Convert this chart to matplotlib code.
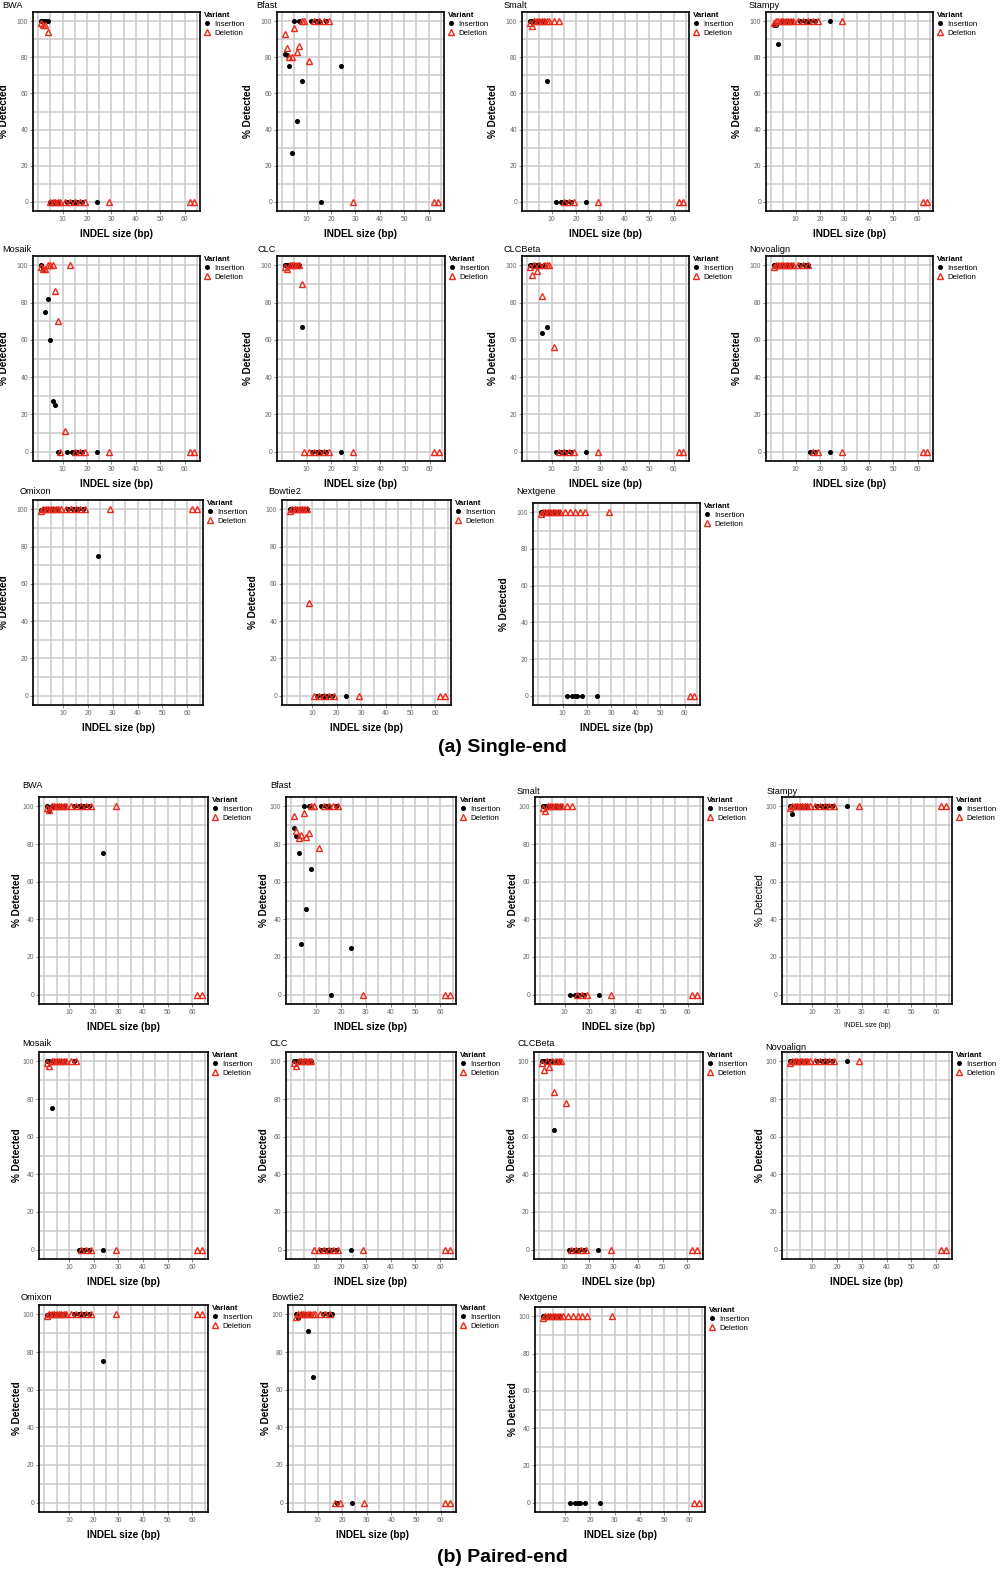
import matplotlib
matplotlib.use("Agg")
import matplotlib.pyplot as plt

plt.rcParams['font.family'] = ['Liberation Sans', 'DejaVu Sans']

# INDEL sizes (bp)
ins_size = [1, 2, 3, 4, 5, 6, 7, 8, 12, 14, 15, 16, 18, 24]
del_size = [1, 2, 3, 4, 5, 6, 7, 8, 9, 11, 13, 15, 17, 19, 29, 62, 64]

# single-end, % detected
se_bwa_ins = [100, 100, 100, 100, 0, 0, 0, 0, 0, 0, 0, 0, 0, 0]
se_bwa_del = [99, 98, 98, 94, 0, 0, 0, 0, 0, 0, 0, 0, 0, 0, 0, 0, 0]
se_bfast_ins = [82, 81, 75, 27, 100, 45, 100, 67, 100, 100, 100, 0, 100, 75]
se_bfast_del = [93, 85, 80, 80, 96, 83, 86, 100, 100, 78, 100, 100, 100, 100, 0, 0, 0]
se_smalt_ins = [100, 100, 100, 100, 100, 100, 100, 67, 0, 0, 0, 0, 0, 0]
se_smalt_del = [99, 97.5, 100, 100, 100, 100, 100, 100, 100, 100, 100, 0, 0, 0, 0, 0, 0]
se_stampy_ins = [98, 98, 87.5, 100, 100, 100, 100, 100, 100, 100, 100, 100, 100, 100]
se_stampy_del = [99, 100, 100, 100, 100, 100, 100, 100, 100, 100, 100, 100, 100, 100, 100, 0, 0]
se_mosaik_ins = [100, 98, 75, 82, 60, 27, 25, 0, 0, 0, 0, 0, 0, 0]
se_mosaik_del = [99, 98, 98, 100, 100, 100, 86, 70, 0, 11, 100, 0, 0, 0, 0, 0, 0]
se_clc_ins = [100, 100, 100, 100, 100, 100, 100, 67, 0, 0, 0, 0, 0, 0]
se_clc_del = [99, 98, 100, 100, 100, 100, 100, 90, 0, 0, 0, 0, 0, 0, 0, 0, 0]
se_clcbeta_ins = [100, 100, 100, 100, 100, 63.5, 100, 66.7, 0, 0, 0, 0, 0, 0]
se_clcbeta_del = [99, 95, 100, 97, 100, 83.5, 100, 100, 100, 56, 0, 0, 0, 0, 0, 0, 0]
se_novo_ins = [100, 100, 100, 100, 100, 100, 100, 100, 100, 100, 100, 0, 0, 0]
se_novo_del = [99, 100, 100, 100, 100, 100, 100, 100, 100, 100, 100, 100, 0, 0, 0, 0, 0]
se_omixon_ins = [99.5, 100, 100, 100, 100, 100, 100, 100, 100, 100, 100, 100, 100, 75]
se_omixon_del = [99, 100, 100, 100, 100, 100, 100, 100, 100, 100, 100, 100, 100, 100, 100, 100, 100]
se_bowtie2_ins = [100, 100, 100, 100, 100, 100, 100, 100, 0, 0, 0, 0, 0, 0]
se_bowtie2_del = [99, 100, 100, 100, 100, 100, 100, 100, 50, 0, 0, 0, 0, 0, 0, 0, 0]
se_nextgene_ins = [100, 100, 100, 100, 100, 100, 100, 100, 0, 0, 0, 0, 0, 0]
se_nextgene_del = [99, 100, 100, 100, 100, 100, 100, 100, 100, 100, 100, 100, 100, 100, 100, 0, 0]

# paired-end, % detected
pe_bwa_ins = [100, 98, 100, 100, 100, 100, 100, 100, 100, 100, 100, 100, 100, 75]
pe_bwa_del = [99, 98, 100, 100, 100, 100, 100, 100, 100, 100, 100, 100, 100, 100, 100, 0, 0]
pe_bfast_ins = [88.5, 84.5, 75, 27, 100, 45.5, 100, 66.7, 100, 100, 100, 0, 100, 25]
pe_bfast_del = [95, 87, 83, 85, 96.5, 83.5, 86, 100, 100, 78, 100, 100, 100, 100, 0, 0, 0]
pe_smalt_ins = [100, 100, 100, 100, 100, 100, 100, 100, 0, 0, 0, 0, 0, 0]
pe_smalt_del = [99, 97.5, 100, 100, 100, 100, 100, 100, 100, 100, 100, 0, 0, 0, 0, 0, 0]
pe_stampy_ins = [100, 96, 100, 100, 100, 100, 100, 100, 100, 100, 100, 100, 100, 100]
pe_stampy_del = [99, 100, 100, 100, 100, 100, 100, 100, 100, 100, 100, 100, 100, 100, 100, 100, 100]
pe_mosaik_ins = [100, 100, 75, 100, 100, 100, 100, 100, 100, 0, 0, 0, 0, 0]
pe_mosaik_del = [99, 97.5, 100, 100, 100, 100, 100, 100, 100, 100, 100, 0, 0, 0, 0, 0, 0]
pe_clc_ins = [100, 100, 100, 100, 100, 100, 100, 100, 0, 0, 0, 0, 0, 0]
pe_clc_del = [99, 97.5, 100, 100, 100, 100, 100, 100, 0, 0, 0, 0, 0, 0, 0, 0, 0]
pe_clcbeta_ins = [100, 100, 100, 100, 100, 63.8, 100, 100, 0, 0, 0, 0, 0, 0]
pe_clcbeta_del = [99, 95.4, 100, 97, 100, 84, 100, 100, 100, 78, 0, 0, 0, 0, 0, 0, 0]
pe_novo_ins = [100, 100, 100, 100, 100, 100, 100, 100, 100, 100, 100, 100, 100, 100]
pe_novo_del = [99, 100, 100, 100, 100, 100, 100, 100, 100, 100, 100, 100, 100, 100, 100, 0, 0]
pe_omixon_ins = [99.5, 100, 100, 100, 100, 100, 100, 100, 100, 100, 100, 100, 100, 75]
pe_omixon_del = [99, 100, 100, 100, 100, 100, 100, 100, 100, 100, 100, 100, 100, 100, 100, 100, 100]
pe_bowtie2_ins = [100, 98, 100, 100, 100, 91, 100, 67, 100, 100, 100, 100, 0, 0]
pe_bowtie2_del = [98.5, 100, 100, 100, 100, 100, 100, 100, 100, 100, 100, 100, 0, 0, 0, 0, 0]
pe_nextgene_ins = [100, 100, 100, 100, 100, 100, 100, 100, 0, 0, 0, 0, 0, 0]
pe_nextgene_del = [99, 100, 100, 100, 100, 100, 100, 100, 100, 100, 100, 100, 100, 100, 100, 0, 0]

W, H = 1000, 1579
RED = '#ec2a1c'
GRID = '#cacaca'

# name, ins, del, (left, right, top, bottom) px, (title x, title y) px
se_panels = [
    ("BWA", se_bwa_ins, se_bwa_del, (33, 200, 12, 211), (2, 5)),
    ("Bfast", se_bfast_ins, se_bfast_del, (277, 444, 12, 211), (256, 5)),
    ("Smalt", se_smalt_ins, se_smalt_del, (522, 689, 12, 211), (504, 5)),
    ("Stampy", se_stampy_ins, se_stampy_del, (766, 933, 12, 211), (749, 5)),
    ("Mosaik", se_mosaik_ins, se_mosaik_del, (33, 200, 256, 461), (2, 249)),
    ("CLC", se_clc_ins, se_clc_del, (277, 445, 256, 461), (258, 249)),
    ("CLCBeta", se_clcbeta_ins, se_clcbeta_del, (522, 689, 256, 461), (504, 249)),
    ("Novoalign", se_novo_ins, se_novo_del, (766, 933, 256, 461), (749, 249)),
    ("Omixon", se_omixon_ins, se_omixon_del, (33, 203, 500, 705), (20, 492)),
    ("Bowtie2", se_bowtie2_ins, se_bowtie2_del, (282, 451, 500, 705), (268, 492)),
    ("Nextgene", se_nextgene_ins, se_nextgene_del, (533, 700, 503, 705), (516, 492)),
]
pe_panels = [
    ("BWA", pe_bwa_ins, pe_bwa_del, (39, 208, 797, 1004), (22, 786)),
    ("Bfast", pe_bfast_ins, pe_bfast_del, (286, 456, 797, 1004), (270, 786)),
    ("Smalt", pe_smalt_ins, pe_smalt_del, (535, 703, 797, 1004), (517, 792)),
    ("Stampy", pe_stampy_ins, pe_stampy_del, (782, 952, 797, 1004), (767, 792)),
    ("Mosaik", pe_mosaik_ins, pe_mosaik_del, (39, 208, 1052, 1259), (22, 1044)),
    ("CLC", pe_clc_ins, pe_clc_del, (286, 456, 1052, 1259), (270, 1044)),
    ("CLCBeta", pe_clcbeta_ins, pe_clcbeta_del, (534, 703, 1052, 1259), (517, 1044)),
    ("Novoalign", pe_novo_ins, pe_novo_del, (782, 952, 1052, 1259), (765, 1047)),
    ("Omixon", pe_omixon_ins, pe_omixon_del, (39, 208, 1305, 1512), (21, 1297)),
    ("Bowtie2", pe_bowtie2_ins, pe_bowtie2_del, (288, 456, 1305, 1512), (271, 1297)),
    ("Nextgene", pe_nextgene_ins, pe_nextgene_del, (535, 705, 1307, 1512), (518, 1297)),
]


def draw_panel(fig, name, ins, dels, box, title_xy, ylab_off, plain=False):
    left, right, top, bottom = box
    w = right - left
    h = bottom - top
    ax = fig.add_axes([left / W, 1 - bottom / H, w / W, h / H])
    ax.set_xlim(-2.1, 66.3)
    ax.set_ylim(-5, 105)
    ax.set_xticks([10, 20, 30, 40, 50, 60])
    ax.set_xticks([0, 5, 15, 25, 35, 45, 55, 65], minor=True)
    ax.set_yticks([0, 20, 40, 60, 80, 100])
    ax.set_yticks([10, 30, 50, 70, 90], minor=True)
    ax.grid(which='both', color=GRID, lw=1.1, zorder=0)
    ax.set_axisbelow(True)
    ax.tick_params(which='major', labelsize=4.9, labelcolor='#666666', color='#777777',
                   length=2, width=0.6, pad=1.5)
    ax.tick_params(which='minor', length=0)
    for s in ax.spines.values():
        s.set_linewidth(1.2)
        s.set_color('black')

    ax.plot(ins_size, ins, 'o', ms=2.6, color='black', ls='none', label='Insertion',
            zorder=3, clip_on=False)
    ax.plot(del_size, dels, '^', ms=4.0, mfc='none', mec=RED, mew=1.0, ls='none',
            label='Deletion', zorder=3, clip_on=False)

    wt = 'normal' if plain else 'bold'
    ax.set_ylabel('% Detected', fontsize=7.2, fontweight=wt)
    ax.yaxis.set_label_coords(-ylab_off / w, 0.5)
    ax.set_xlabel('INDEL size (bp)', fontsize=4.8 if plain else 7.2, fontweight=wt)
    ax.xaxis.set_label_coords(0.5, -18 / h)

    ax.legend(title='Variant', loc='upper left', bbox_to_anchor=(1 + 4 / w, 1.0),
              frameon=False, fontsize=5.7, handlelength=0.8, handletextpad=0.5,
              labelspacing=0.2, borderpad=0, borderaxespad=0,
              title_fontproperties={'weight': 'bold', 'size': 5.7},
              alignment='left')

    fig.text(title_xy[0] / W, 1 - title_xy[1] / H, name, fontsize=6.6,
             ha='left', va='center')
    return ax


fig = plt.figure(figsize=(W / 100, H / 100), dpi=100)

for name, ins, dels, box, txy in se_panels:
    draw_panel(fig, name, ins, dels, box, txy, 24)

for name, ins, dels, box, txy in pe_panels:
    draw_panel(fig, name, ins, dels, box, txy, 17, plain=(name == "Stampy"))

fig.text(502 / W, 1 - 748 / H, '(a) Single-end', fontsize=14, fontweight='bold',
         ha='center', va='center')
fig.text(502 / W, 1 - 1557 / H, '(b) Paired-end', fontsize=14, fontweight='bold',
         ha='center', va='center')

fig.savefig('out.png', dpi=100)
